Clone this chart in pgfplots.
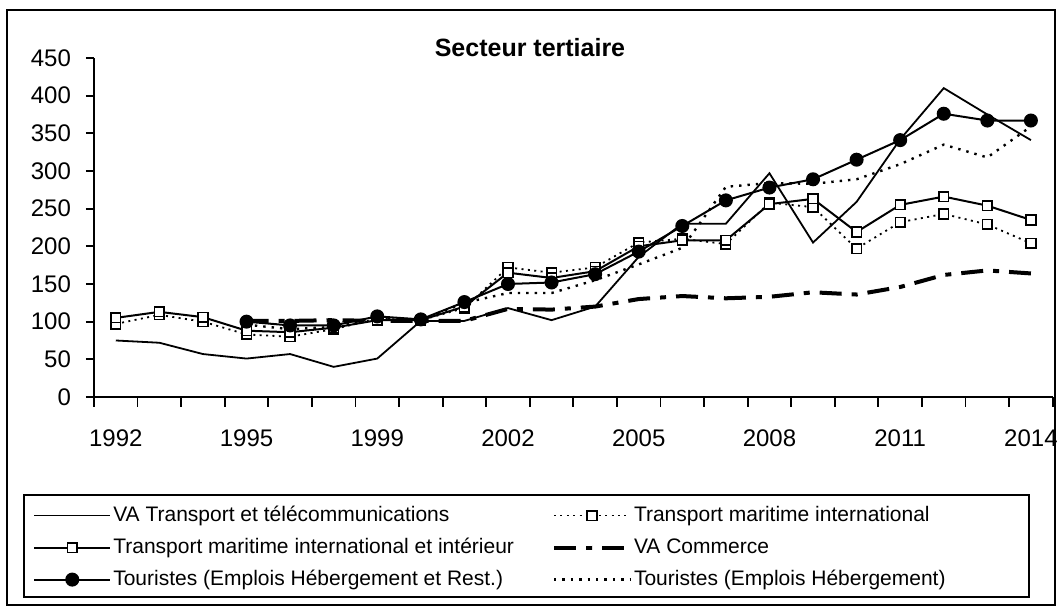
\documentclass[border=0pt]{standalone}
\usepackage{fontspec}
\setmainfont{Liberation Sans}
\usepackage{pgfplots}
\pgfplotsset{compat=1.18}
\usepackage{pgfplotstable}

% index 0..21 = 1992 ... 2014 (one category per year shown by Excel)
\pgfplotstableread{
idx vat tmii tmi vac ter teh
0  75  105 97  nan nan nan
1  72  113 109 nan nan nan
2  57  106 100 nan nan nan
3  51  88  83  101 100 96
4  57  86  80  101 95  90
5  40  92  90  102 95  93
6  51  102 104 101 107 106
7  101 102 102 101 103 102
8  101 120 118 101 126 125
9  118 165 172 117 150 138
10 102 158 165 116 152 138
11 120 167 172 120 163 155
12 186 200 205 130 193 176
13 230 208 210 134 227 198
14 230 208 203 131 261 279
15 297 256 258 133 278 284
16 205 263 252 139 289 283
17 259 219 197 136 315 289
18 342 255 232 146 341 309
19 410 266 243 162 376 335
20 375 254 229 168 367 318
21 341 235 204 164 367 359
}\data

\begin{document}
\begin{tikzpicture}
\path[use as bounding box] (-47pt,-108.5pt) rectangle (484pt,198.5pt);
\draw[line width=1pt] (-43.5pt,-104pt) rectangle (480.5pt,193.5pt);
\begin{axis}[
    scale only axis,
    width=479.35pt, height=169.5pt,
    xmin=-0.5, xmax=21.5,
    ymin=0, ymax=450,
    ytick={0,50,...,450},
    xtick={0,3,6,9,12,15,18,21},
    xticklabels={1992,1995,1999,2002,2005,2008,2011,2014},
    minor xtick={-0.5,0.5,...,21.5},
    major x tick style={draw=none},
    axis x line*=bottom, axis y line*=left,
    axis line style={line width=1pt},
    tick align=outside,
    major tick length=4pt, minor tick length=5pt,
    tick style={black, line width=0.9pt},
    tick label style={font=\fontsize{12}{14}\selectfont},
    /pgf/number format/assume math mode=true,
    yticklabel style={xshift=-4pt},
    xticklabel style={yshift=-9pt},
    legend columns=2,
    legend cell align=left,
    legend style={at={(-0.07,-0.30)}, anchor=north west, draw=none, fill=none,
        font=\fontsize{10.5}{12}\selectfont,
        nodes={inner sep=1pt, text height=8pt, text depth=2.5pt},
        row sep=3.5pt,
        /tikz/every even column/.append style={column sep=18pt}},
    legend image code/.code={\draw[mark repeat=2,mark phase=2,#1] plot coordinates {(0pt,0pt) (19pt,0pt) (38pt,0pt)};},
]
\addplot[black, line width=0.9pt] table[x=idx,y=vat]{\data};
\addlegendentry{VA Transport et télécommunications}
\addplot[black, line width=0.9pt, dash pattern=on 1pt off 2.2pt, mark=square*, mark size=2.4pt, mark options={solid, fill=white, line width=0.8pt}] table[x=idx,y=tmi]{\data};
\addlegendentry{Transport maritime international}
\addplot[black, line width=1pt, mark=square*, mark size=2.4pt, mark options={solid, fill=white, line width=0.8pt}] table[x=idx,y=tmii]{\data};
\addlegendentry{Transport maritime international et intérieur}
\addplot[black, line width=2pt, dash pattern=on 11pt off 5pt on 3pt off 5pt] table[x=idx,y=vac]{\data};
\addlegendentry{VA Commerce}
\addplot[black, line width=1pt, mark=*, mark size=3pt, mark options={solid}] table[x=idx,y=ter]{\data};
\addlegendentry{Touristes (Emplois Hébergement et Rest.)}
\addplot[black, line width=1.2pt, dash pattern=on 1.2pt off 3pt] table[x=idx,y=teh]{\data};
\addlegendentry{Touristes (Emplois Hébergement)}
\end{axis}
\draw[line width=0.75pt] (-35pt,-49pt) rectangle (467.5pt,-100pt);
\node[font=\fontsize{12.5}{15}\selectfont\bfseries] at (218pt,174.5pt) {Secteur tertiaire};
\end{tikzpicture}
\end{document}
